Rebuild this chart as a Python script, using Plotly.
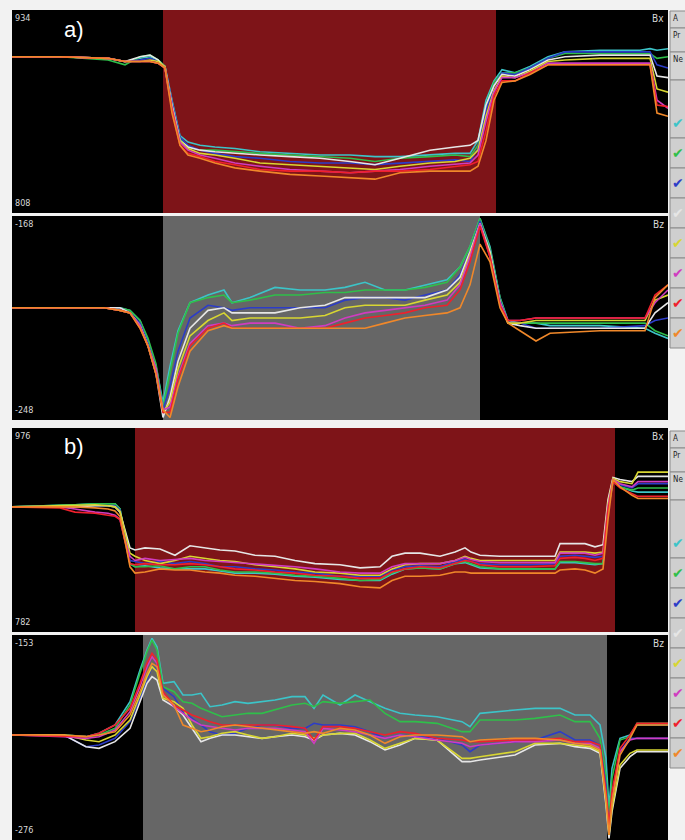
import plotly.graph_objects as go

# ---------------- data ----------------
series_names = ["cyan", "green", "blue", "white", "yellow", "magenta", "red", "orange"]
series_colors = ["#3cc4c8", "#2fbf4a", "#2c3cc8", "#e6e6e6", "#d8d632", "#d03cc0", "#f0202c", "#f0882a"]

# panel a) Bx
t_ax = [0,48,96,113,128,138,146,153,160,168,176,188,203,223,248,278,308,338,363,388,418,443,458,466,474,482,490,503,518,536,553,588,628,638,645,656]
ax_cyan = [905,905,904,902,904,905,903,899,878,856,852,850,849,848,846,845,844,844,843,843,844,845,845,853,878,890,897,895,899,905,908,909,909,910,909,910]
ax_green = [905,905,903,900,905,906,903,899,875,854,849,847,847,846,845,844,843,842,840,842,843,844,843,850,875,889,895,895,898,904,907,907,907,907,904,905]
ax_blue = [905,905,904,902,903,904,902,899,877,855,850,847,845,843,842,840,839,839,838,839,840,841,840,848,872,887,895,894,898,904,908,908,908,908,900,898]
ax_white = [905,905,904,902,905,906,903,898,875,853,849,847,846,845,844,843,842,840,838,842,847,849,850,853,875,887,894,893,897,903,905,906,906,906,893,892]
ax_yellow = [905,905,904,902,902,903,902,899,874,853,848,845,844,842,839,838,837,836,835,837,839,840,842,847,868,884,893,892,896,902,903,904,904,904,885,883]
ax_magenta = [905,905,904,902,902,902,901,898,873,852,847,844,842,839,837,835,834,833,834,835,837,838,839,844,865,883,892,892,895,901,901,901,901,901,878,873]
ax_red = [905,905,904,902,902,902,901,898,872,850,845,843,840,838,835,834,834,833,834,834,835,837,838,840,859,881,890,890,895,900,900,900,900,900,875,874]
ax_orange = [905,905,904,902,902,902,901,898,870,850,844,842,839,836,834,832,831,830,829,833,834,834,834,837,853,878,889,890,894,900,900,900,900,900,870,868]

# panel a) Bz
t_az = [0,48,92,108,118,128,136,144,151,158,166,178,196,212,220,238,263,288,313,333,353,373,393,413,435,448,458,468,478,488,496,508,524,538,588,633,643,656]
az_cyan = [-204,-204,-204,-204,-205,-209,-217,-227,-241,-227,-213,-202,-199,-197,-202,-200,-196,-197,-197,-196,-194,-197,-197,-195,-193,-188,-180,-169,-180,-200,-209,-210,-210,-211,-211,-212,-214,-216]
az_green = [-204,-204,-204,-204,-205,-209,-216,-226,-243,-230,-214,-202,-200,-199,-202,-201,-199,-199,-198,-198,-197,-197,-197,-196,-194,-188,-180,-169,-181,-200,-210,-210,-210,-210,-210,-210,-213,-215]
az_blue = [-204,-204,-204,-204,-206,-210,-218,-228,-244,-235,-221,-208,-203,-204,-205,-204,-204,-204,-204,-201,-200,-200,-201,-199,-197,-191,-182,-170,-182,-201,-210,-210,-212,-212,-212,-211,-209,-208]
az_white = [-204,-204,-204,-204,-206,-211,-219,-230,-247,-239,-225,-212,-205,-204,-206,-206,-206,-204,-203,-200,-200,-200,-200,-200,-197,-192,-182,-171,-182,-202,-210,-211,-212,-212,-212,-212,-206,-202]
az_yellow = [-204,-204,-204,-205,-206,-211,-219,-228,-245,-241,-228,-215,-209,-206,-209,-208,-208,-208,-207,-204,-203,-203,-203,-201,-199,-194,-183,-171,-183,-202,-210,-210,-209,-209,-209,-209,-201,-199]
az_magenta = [-204,-204,-204,-205,-206,-211,-219,-228,-244,-243,-231,-218,-211,-210,-211,-210,-210,-212,-211,-208,-206,-205,-204,-203,-201,-195,-184,-171,-184,-202,-209,-209,-208,-208,-208,-208,-202,-197]
az_red = [-204,-204,-204,-205,-206,-212,-219,-230,-245,-245,-232,-219,-212,-210,-212,-212,-212,-212,-212,-210,-208,-207,-206,-204,-203,-197,-186,-172,-184,-203,-209,-209,-208,-208,-208,-208,-199,-195]
az_orange = [-204,-204,-204,-205,-206,-212,-219,-230,-244,-247,-235,-221,-213,-211,-212,-212,-212,-212,-212,-212,-212,-210,-208,-207,-206,-204,-195,-179,-186,-204,-210,-213,-217,-214,-213,-213,-200,-195]

# panel b) Bx
t_bx = [0,48,63,83,96,103,108,113,118,123,133,148,163,178,193,208,223,243,263,283,303,328,348,368,380,393,408,428,443,453,459,468,488,518,543,548,563,573,583,591,596,601,608,620,626,656]
bx_cyan = [901,902,903,904,904,904,899,873,847,844,845,843,842,842,842,840,838,838,837,835,834,832,831,831,837,842,843,842,847,848,846,843,842,842,842,848,848,847,846,847,898,925,920,916,915,915]
bx_green = [901,902,903,904,904,904,899,873,847,844,844,845,842,844,844,841,839,839,838,836,835,833,831,832,838,842,843,842,847,849,847,844,842,842,842,849,849,848,847,847,898,926,920,917,919,919]
bx_blue = [901,902,902,902,902,902,898,874,850,849,847,849,847,849,847,844,844,842,841,839,838,835,835,835,841,844,845,844,849,851,849,847,846,846,847,854,855,854,853,854,900,927,922,919,923,923]
bx_white = [901,901,901,902,902,901,896,879,862,860,862,861,855,864,862,860,859,855,854,850,847,846,843,844,854,857,857,854,858,862,858,855,854,854,854,866,866,866,863,865,908,929,927,925,930,930]
bx_yellow = [901,902,902,903,902,901,897,876,857,854,850,847,850,854,852,850,849,846,844,842,839,838,836,836,842,846,847,847,850,854,852,850,850,850,850,858,858,858,857,858,904,928,925,923,934,934]
bx_magenta = [901,901,899,896,895,893,889,869,854,850,852,850,851,852,850,849,848,847,845,844,842,839,838,838,844,847,847,847,850,853,851,849,848,848,848,857,857,857,855,857,901,927,923,920,925,925]
bx_red = [901,900,896,895,893,892,889,868,847,846,847,846,846,847,846,844,842,841,839,838,836,835,833,833,839,842,844,843,847,850,849,846,844,844,845,852,853,852,850,852,898,925,919,914,911,911]
bx_orange = [901,901,901,900,899,897,892,869,844,838,839,842,841,841,839,838,836,835,833,831,830,828,825,824,831,835,835,836,839,839,838,838,838,838,838,841,842,841,838,842,889,927,920,912,909,909]

# panel b) Bz
t_bz = [0,52,74,87,103,118,128,135,140,145,151,162,171,180,189,198,210,223,236,250,263,280,293,302,311,328,343,358,373,388,403,425,450,458,468,503,523,548,563,578,588,594,597,600,608,618,625,656]
bz_cyan = [-213,-213,-214,-212,-207,-193,-174,-162,-155,-160,-182,-181,-189,-189,-188,-196,-195,-193,-194,-193,-192,-190,-190,-197,-189,-195,-189,-193,-197,-200,-201,-202,-205,-208,-200,-198,-197,-197,-201,-201,-207,-227,-257,-233,-215,-213,-207,-207]
bz_green = [-213,-213,-214,-213,-209,-195,-176,-163,-156,-162,-184,-187,-193,-194,-197,-199,-202,-201,-200,-200,-198,-195,-194,-196,-193,-194,-193,-192,-200,-205,-205,-206,-211,-211,-204,-204,-203,-201,-205,-205,-215,-237,-263,-239,-216,-214,-206,-206]
bz_blue = [-213,-213,-220,-219,-215,-205,-191,-180,-172,-174,-185,-190,-199,-203,-207,-211,-213,-212,-209,-207,-207,-209,-209,-206,-207,-207,-208,-211,-215,-213,-214,-215,-219,-223,-219,-217,-216,-211,-216,-216,-219,-243,-271,-255,-223,-215,-215,-215]
bz_white = [-213,-213,-220,-221,-217,-209,-193,-182,-178,-180,-192,-196,-201,-209,-217,-215,-213,-213,-214,-215,-214,-213,-214,-216,-213,-212,-213,-217,-222,-219,-215,-216,-229,-229,-228,-225,-219,-218,-220,-221,-224,-255,-275,-259,-233,-226,-223,-223]
bz_yellow = [-213,-213,-216,-217,-213,-204,-189,-178,-172,-175,-191,-193,-197,-207,-215,-214,-212,-211,-213,-215,-214,-212,-213,-215,-213,-212,-212,-216,-221,-218,-215,-216,-227,-227,-226,-223,-218,-218,-219,-220,-223,-253,-273,-257,-231,-224,-222,-222]
bz_magenta = [-213,-214,-215,-214,-210,-199,-184,-172,-166,-170,-188,-196,-200,-204,-207,-208,-209,-210,-209,-209,-209,-210,-211,-218,-209,-210,-211,-213,-215,-213,-214,-216,-218,-220,-219,-217,-217,-216,-218,-218,-221,-249,-269,-251,-223,-216,-215,-215]
bz_red = [-213,-214,-214,-212,-207,-197,-182,-170,-164,-168,-187,-195,-198,-201,-203,-205,-207,-207,-207,-207,-207,-208,-209,-216,-208,-208,-209,-211,-213,-211,-212,-215,-216,-217,-217,-216,-216,-215,-217,-217,-219,-247,-267,-247,-221,-213,-206,-206]
bz_orange = [-213,-213,-214,-213,-211,-201,-187,-176,-170,-172,-189,-195,-207,-209,-211,-210,-208,-207,-208,-209,-210,-211,-212,-211,-212,-209,-210,-213,-218,-214,-213,-213,-214,-217,-216,-215,-215,-216,-218,-219,-222,-251,-273,-253,-225,-215,-207,-207]

# axis ranges (as labelled) and shaded intervals (sample units)
ax_range = [808, 934]
az_range = [-248, -168]
bx_range = [782, 976]
bz_range = [-276, -153]
ax_shade = [151, 484]
az_shade = [151, 468]
bx_shade = [123, 603]
bz_shade = [131, 595]

# ---------------- figure ----------------
W, H = 685, 840
RED = "#7e1418"
GRAY = "#666666"

panels = [
    dict(t=t_ax, ys=[ax_cyan, ax_green, ax_blue, ax_white, ax_yellow, ax_magenta, ax_red, ax_orange],
         rng=ax_range, top=10, bot=213, shade=ax_shade, sc=RED, comp="Bx"),
    dict(t=t_az, ys=[az_cyan, az_green, az_blue, az_white, az_yellow, az_magenta, az_red, az_orange],
         rng=az_range, top=216, bot=420, shade=az_shade, sc=GRAY, comp="Bz"),
    dict(t=t_bx, ys=[bx_cyan, bx_green, bx_blue, bx_white, bx_yellow, bx_magenta, bx_red, bx_orange],
         rng=bx_range, top=428, bot=632, shade=bx_shade, sc=RED, comp="Bx"),
    dict(t=t_bz, ys=[bz_cyan, bz_green, bz_blue, bz_white, bz_yellow, bz_magenta, bz_red, bz_orange],
         rng=bz_range, top=635, bot=840, shade=bz_shade, sc=GRAY, comp="Bz"),
]

fig = go.Figure()
layout = {}
shapes = []
annotations = []
lab_font = dict(family="DejaVu Sans Condensed, Liberation Sans Narrow, sans-serif", size=9, color="#d8d8d8")

for i, p in enumerate(panels, start=1):
    sfx = "" if i == 1 else str(i)
    xa, ya = "x" + sfx, "y" + sfx
    for name, col, ys in zip(series_names, series_colors, p["ys"]):
        fig.add_trace(go.Scatter(x=p["t"], y=ys, mode="lines", name=name,
                                 line=dict(color=col, width=1.6), xaxis=xa, yaxis=ya,
                                 showlegend=False, hoverinfo="skip"))
    layout["xaxis" + sfx] = dict(domain=[12 / W, 668 / W], range=[p["t"][0], p["t"][-1]],
                                 visible=False, anchor=ya, fixedrange=True)
    layout["yaxis" + sfx] = dict(domain=[1 - p["bot"] / H, 1 - p["top"] / H], range=p["rng"],
                                 visible=False, anchor=xa, fixedrange=True)
    shapes.append(dict(type="rect", xref=xa, yref=ya + " domain", x0=p["shade"][0], x1=p["shade"][1],
                       y0=0, y1=1, fillcolor=p["sc"], line_width=0, layer="below"))
    annotations.append(dict(xref="paper", yref="paper", x=13 / W, y=1 - (p["top"] + 1) / H,
                            text=str(p["rng"][1]), showarrow=False, xanchor="left", yanchor="top",
                            font=lab_font))
    annotations.append(dict(xref="paper", yref="paper", x=13 / W, y=1 - (p["bot"] - 3) / H,
                            text=str(p["rng"][0]), showarrow=False, xanchor="left", yanchor="bottom",
                            font=lab_font))
    annotations.append(dict(xref="paper", yref="paper", x=666 / W, y=1 - (p["top"] + 1) / H,
                            text=p["comp"], showarrow=False, xanchor="right", yanchor="top",
                            font=dict(family=lab_font["family"], size=10, color="#d8d8d8")))

# panel letters
for txt, yy in [("a)", 30), ("b)", 446)]:
    annotations.append(dict(xref="paper", yref="paper", x=62 / W, y=1 - yy / H, text=txt,
                            showarrow=False, xanchor="left", yanchor="middle",
                            font=dict(family="Liberation Sans, Arial, sans-serif", size=22, color="white")))

# legend strip at the right edge
for off in (0, 420):
    heads = [("A", 11, 28), ("Pr", 28, 52), ("Ne", 52, 80)]
    for txt, y0, y1 in heads:
        shapes.append(dict(type="rect", xref="paper", yref="paper", x0=670 / W, x1=1.02,
                           y0=1 - (y1 + off) / H, y1=1 - (y0 + off) / H,
                           fillcolor="#d4d4d4", line=dict(color="#8a8a8a", width=1)))
        annotations.append(dict(xref="paper", yref="paper", x=670.5 / W, y=1 - (y0 + off + 1) / H,
                                text=txt, showarrow=False, xanchor="left", yanchor="top",
                                font=dict(family="DejaVu Sans Condensed, sans-serif", size=8, color="#222")))
    rows = [(80, 138)] + [(138 + 30 * k, 168 + 30 * k) for k in range(7)]
    for col, (y0, y1) in zip(series_colors, rows):
        shapes.append(dict(type="rect", xref="paper", yref="paper", x0=670 / W, x1=1.02,
                           y0=1 - (y1 + off) / H, y1=1 - (y0 + off) / H,
                           fillcolor="#cfcfcf", line=dict(color="#8a8a8a", width=1)))
        annotations.append(dict(xref="paper", yref="paper", x=670 / W, y=1 - (y1 - 15 + off) / H,
                                text="<b>✔</b>", showarrow=False, xanchor="left", yanchor="middle",
                                font=dict(family="DejaVu Sans, sans-serif", size=14, color=col)))

layout.update(dict(width=W, height=H, margin=dict(l=0, r=0, t=0, b=0),
                   paper_bgcolor="#f2f2f2", plot_bgcolor="black",
                   shapes=shapes, annotations=annotations, showlegend=False))
fig.update_layout(**layout)
fig.write_html("out.html", config={"displayModeBar": False, "staticPlot": True},
               post_script="document.body.style.margin='0px';document.body.style.overflow='hidden';")
